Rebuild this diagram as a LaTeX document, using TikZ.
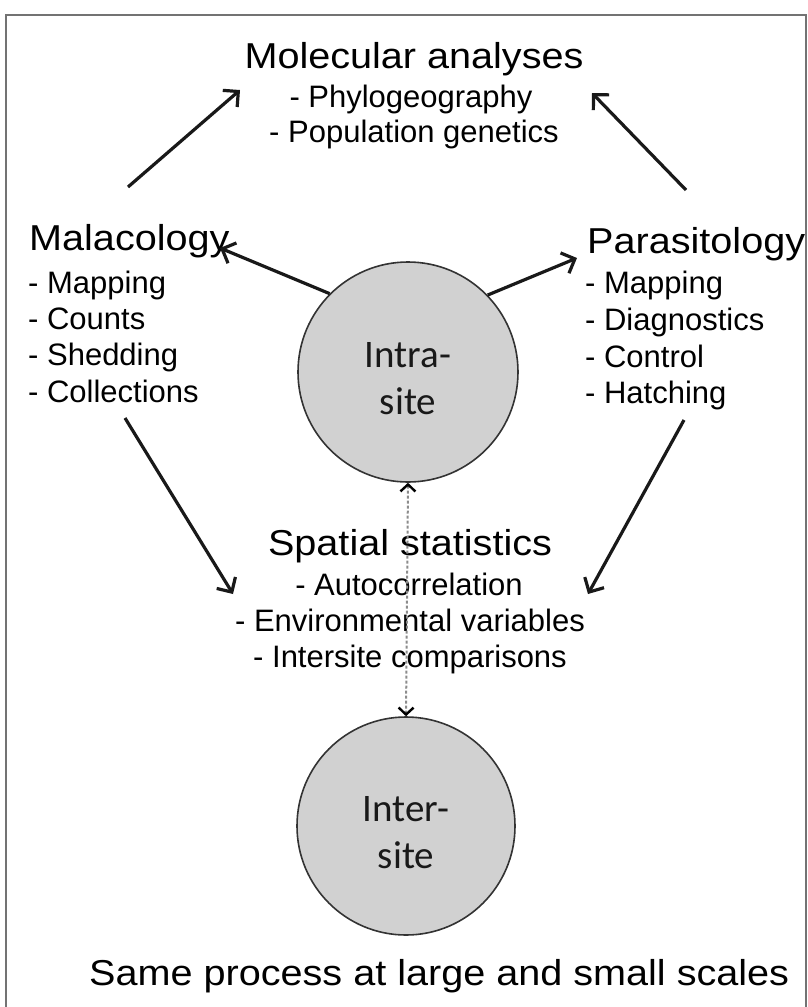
\documentclass[tikz,border=0pt]{standalone}
\usepackage{fontspec}
\setmainfont{Liberation Sans}
\newfontfamily\titlefont{Liberation Sans}[FakeStretch=1.1]
\newfontfamily\circfont{Carlito}
\usetikzlibrary{arrows.meta}
\tikzset{
  ttl/.style={font=\titlefont\fontsize{36}{40}\selectfont, inner sep=0pt, text=black},
  itm/.style={font=\fontsize{31}{36}\selectfont, inner sep=0pt, text=black},
  sitecirc/.style={circle, draw=black!80, line width=1.6pt, fill=black!18,
    minimum size=220pt, inner sep=0pt, align=center,
    font=\circfont\fontsize{39}{47}\selectfont, text=black!90},
  arr/.style={line width=3.2pt, black!90, -{Straight Barb[length=11pt,width=22pt]}},
  dasharr/.style={line width=2pt, black!45, densely dashed,
    {Straight Barb[length=7pt,width=15pt,black,line width=2.4pt]}-{Straight Barb[length=7pt,width=15pt,black,line width=2.4pt]}},
  framebox/.style={draw=black!55, line width=2pt}
}
\newcommand{\lowerstrut}{\rule{0pt}{39pt}}
\begin{document}
\begin{tikzpicture}[x=1pt,y=-1pt]
\useasboundingbox (0,0) rectangle (808,1007);
\draw[framebox] (6,1030) -- (6,15) -- (806,15) -- (806,1030);

% circles
\node[sitecirc] (intra) at (408,372) {\lowerstrut Intra-\\site};
\node[sitecirc, minimum size=218pt] (inter) at (406,826) {\lowerstrut Inter-\\site};

% Molecular analyses
\node[ttl, anchor=base] (mol) at (414,68) {Molecular analyses};
\node[itm, anchor=base] (mol1) at (411,107) {- Phylogeography};
\node[itm, anchor=base] (mol2) at (414,142) {- Population genetics};

% Malacology
\node[ttl, anchor=base west] (mal) at (29,250) {Malacology};
\node[itm, anchor=base west] (mal1) at (28,293) {- Mapping};
\node[itm, anchor=base west] (mal2) at (28,329) {- Counts};
\node[itm, anchor=base west] (mal3) at (28,365) {- Shedding};
\node[itm, anchor=base west] (mal4) at (28,402) {- Collections};

% Parasitology
\node[ttl, anchor=base west] (par) at (587,253) {Parasitology};
\node[itm, anchor=base west] (par1) at (585,293) {- Mapping};
\node[itm, anchor=base west] (par2) at (585,330) {- Diagnostics};
\node[itm, anchor=base west] (par3) at (585,367) {- Control};
\node[itm, anchor=base west] (par4) at (585,403) {- Hatching};

% Spatial statistics
\node[ttl, anchor=base] (spa) at (410,555) {Spatial statistics};
\node[itm, anchor=base] (spa1) at (409,595) {- Autocorrelation};
\node[itm, anchor=base] (spa2) at (410,631) {- Environmental variables};
\node[itm, anchor=base] (spa3) at (410,667) {- Intersite comparisons};

% bottom caption
\node[ttl, anchor=base west] (cap) at (89,985) {Same process at large and small scales};

% connector end points
\coordinate (malTop) at (128,187);
\coordinate (molL) at (240,90);
\coordinate (parTop) at (686,190);
\coordinate (molR) at (592,93);
\coordinate (malR) at (220,248);
\coordinate (parL) at (577,258);
\coordinate (malBot) at (125,418);
\coordinate (spaL) at (233,594);
\coordinate (parBot) at (684,420);
\coordinate (spaR) at (588,594);

\draw[arr] (malTop) -- (molL);
\draw[arr] (parTop) -- (molR);
\draw[arr] (intra.135) -- (malR);
\draw[arr] (intra.44) -- (parL);
\draw[arr] (malBot) -- (spaL);
\draw[arr] (parBot) -- (spaR);
\draw[dasharr] (intra.south) -- (inter.north);
\end{tikzpicture}
\end{document}
